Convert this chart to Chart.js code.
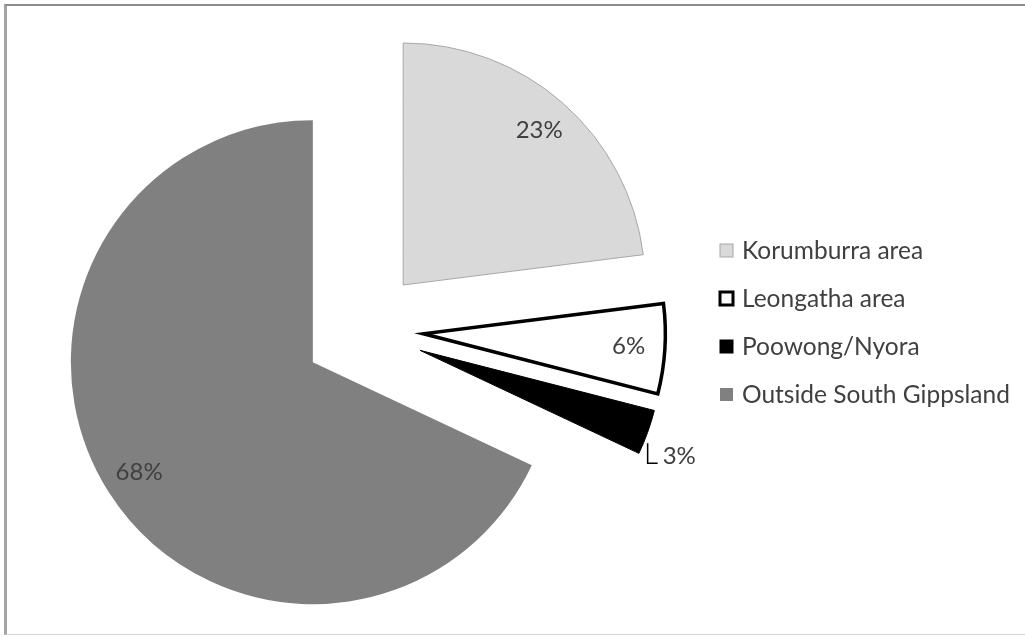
<!DOCTYPE html>
<html>
<head>
<meta charset="utf-8">
<script src="https://cdn.jsdelivr.net/npm/chart.js@4.4.1/dist/chart.umd.min.js"></script>
<style>
  html, body { margin: 0; padding: 0; background: #fff; }
  #wrap { position: relative; width: 1025px; height: 637px; overflow: hidden; }
  #frame { position: absolute; left: 4px; top: 4px; width: 1040px; height: 631px; box-sizing: border-box;
           border-top: 2px solid #8c8c8c; border-left: 3px solid #a3a3a3; border-bottom: 1px solid #d4d4d4; }
  canvas { position: absolute; left: 0; top: 0; }
</style>
</head>
<body>
<div id="wrap">
  <div id="frame"></div>
  <canvas id="pie" width="1025" height="637"></canvas>
</div>
<script>
const regions = ["Korumburra area", "Leongatha area", "Poowong/Nyora", "Outside South Gippsland"]
const shares = [23, 6, 3, 68]
const sliceFill = ["#d9d9d9", "#ffffff", "#000000", "#808080"]
const sliceEdge = ["#a8a8a8", "#000000", "#000000", "#808080"]
const edgeWidth = [1, 3.5, 1, 0]

const R = 242        // pie radius
const explode = 60   // how far every slice is pulled out

// pull every slice out along its middle angle, keeping its shape
const explodeSlices = {
    id: "explodeSlices",
    afterUpdate(chart) {
        const arcs = chart.getDatasetMeta(0).data
        arcs.forEach(arc => {
            const mid = (arc.startAngle + arc.endAngle) / 2
            arc.x = arc.x + Math.cos(mid) * explode
            arc.y = arc.y + Math.sin(mid) * explode
        })
    }
}

const sliceLabels = {
    id: "sliceLabels",
    afterDatasetsDraw(chart) {
        const ctx = chart.ctx
        const arcs = chart.getDatasetMeta(0).data
        ctx.save()
        ctx.font = "24px Lato"
        ctx.fillStyle = "#404040"
        ctx.textBaseline = "middle"
        arcs.forEach((arc, i) => {
            const mid = (arc.startAngle + arc.endAngle) / 2
            const txt = shares[i] + "%"
            if (shares[i] < 5) {
                // small slice: label outside with an elbow leader
                const ex = arc.x + Math.cos(mid) * R
                const ey = arc.y + Math.sin(mid) * R
                ctx.strokeStyle = "#000"
                ctx.lineWidth = 1.5
                ctx.beginPath()
                ctx.moveTo(ex, ey + 11)
                ctx.lineTo(ex, ey + 31)
                ctx.lineTo(ex + 10, ey + 31)
                ctx.stroke()
                ctx.textAlign = "left"
                ctx.fillText(txt, ex + 15, ey + 24)
            } else {
                ctx.textAlign = "center"
                ctx.fillText(txt, arc.x + Math.cos(mid) * R * 0.85, arc.y + Math.sin(mid) * R * 0.85)
            }
        })
        ctx.restore()
    }
}

const sideLegend = {
    id: "sideLegend",
    afterDraw(chart) {
        const ctx = chart.ctx
        ctx.save()
        ctx.font = "24.5px Lato"
        ctx.textBaseline = "middle"
        chart.data.labels.forEach((name, i) => {
            const y = 251 + i * 48
            ctx.fillStyle = sliceFill[i]
            ctx.fillRect(720, y - 7, 13, 13)
            if (edgeWidth[i] > 0) {
                ctx.strokeStyle = sliceEdge[i]
                ctx.lineWidth = i === 1 ? 3 : 1
                ctx.strokeRect(720, y - 7, 13, 13)
            }
            ctx.fillStyle = "#404040"
            ctx.fillText(name, 742, y)
        })
        ctx.restore()
    }
}

new Chart(document.getElementById("pie"), {
    type: "pie",
    data: {
        labels: regions,
        datasets: [{
            data: shares,
            backgroundColor: sliceFill,
            borderColor: sliceEdge,
            borderWidth: edgeWidth,
            borderJoinStyle: "miter",
            offset: 0
        }]
    },
    options: {
        responsive: false,
        animation: false,
        events: [],
        radius: R,
        layout: {padding: {left: 0, right: 298, top: 23, bottom: 0}},
        plugins: {
            legend: {display: false},
            tooltip: {enabled: false}
        }
    },
    plugins: [explodeSlices, sliceLabels, sideLegend]
})
</script>
</body>
</html>
